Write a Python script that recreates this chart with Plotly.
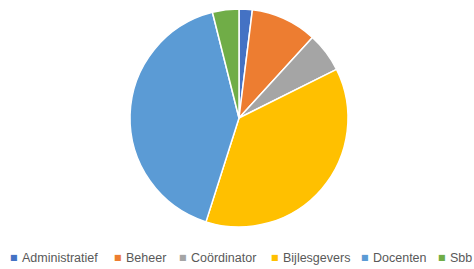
import plotly.graph_objects as go

categories = ["Administratief", "Beheer", "Coördinator", "Bijlesgevers", "Docenten", "Sbb"]
values = [1, 5, 3, 19, 21, 2]
colors = ["#4472C4", "#ED7D31", "#A5A5A5", "#FFC000", "#5B9BD5", "#70AD47"]

# legend text left positions (pixels)
legend_text_x = [22, 126, 191, 283, 373, 450]

W, H = 474, 269
ML, MR, MT, MB = 4, 0, 9, 42

fig = go.Figure()
fig.add_trace(go.Pie(
    labels=categories,
    values=values,
    marker=dict(colors=colors, line=dict(color="white", width=1.5)),
    sort=False,
    direction="clockwise",
    rotation=0,
    textinfo="none",
    showlegend=False,
))

pw = W - ML - MR
ph = H - MT - MB
legend_y_px = 257
ypaper = (H - MB - legend_y_px) / ph
for cat, col, tx in zip(categories, colors, legend_text_x):
    fig.add_annotation(
        x=(tx - 8 - ML) / pw, y=ypaper, xref="paper", yref="paper",
        text="■", showarrow=False, xanchor="center", yanchor="middle",
        font=dict(family="DejaVu Sans", size=8, color=col),
    )
    fig.add_annotation(
        x=(tx - ML) / pw, y=ypaper, xref="paper", yref="paper",
        text=cat, showarrow=False, xanchor="left", yanchor="middle",
        xshift=-2, yshift=-1,
        font=dict(family="Liberation Sans", size=12.5, color="#595959"),
    )

fig.update_layout(
    width=W, height=H,
    margin=dict(l=ML, r=MR, t=MT, b=MB),
    paper_bgcolor="white",
    plot_bgcolor="white",
)
fig.write_html("out.html", config={"displayModeBar": False},
               post_script="document.body.style.margin='0';")
